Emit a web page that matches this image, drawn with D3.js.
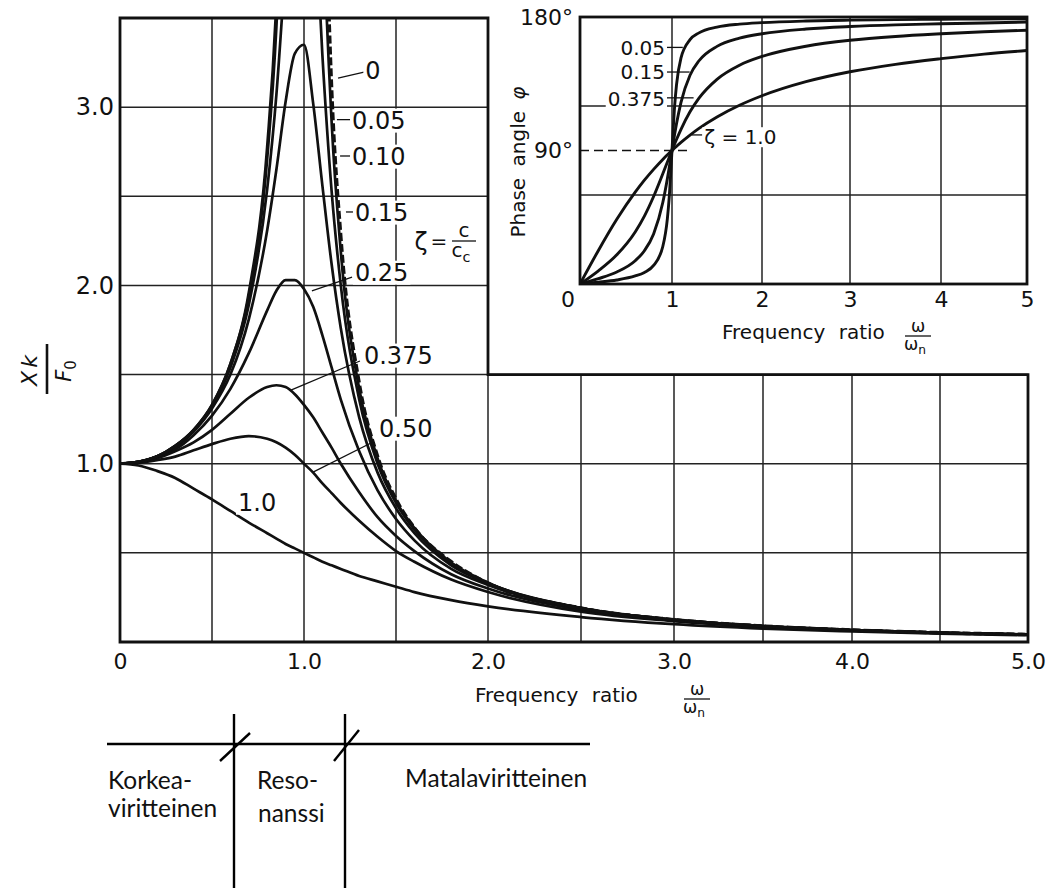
<!DOCTYPE html>
<html>
<head>
<meta charset="utf-8">
<script src="https://cdn.jsdelivr.net/npm/d3@7"></script>
<style>
	body { margin: 0; background: #fff; }
	svg { display: block; }
	.scan { font-family: "DejaVu Sans", sans-serif; fill: #111; }
	.note { font-family: Lato, "Open Sans", sans-serif; fill: #111; font-size: 24.5px; }
	.grid { stroke: #222; stroke-width: 1.5; }
	.frame { fill: none; stroke: #111; stroke-width: 2.8; }
	.curve { fill: none; stroke: #111; stroke-width: 2.7; }
	.lead { stroke: #111; stroke-width: 1.3; }
	.mark { stroke: #000; stroke-width: 2.4; }
</style>
</head>
<body>
<svg width="1049" height="888"></svg>
<script>
// frequency ratio samples for the amplitude curves
const ratio = [0, 0.1, 0.2, 0.3, 0.4, 0.5, 0.6, 0.7, 0.8, 0.85, 0.9, 0.95, 1.0, 1.05, 1.1, 1.15, 1.2, 1.3, 1.4, 1.5, 1.6, 1.8, 2.0, 2.5, 3.0, 3.5, 4.0, 4.5, 5.0];

// Xk/F0, one array per damping ratio
const zeta0    = [1, 1.01, 1.04, 1.10, 1.19, 1.33, 1.56, 1.96, 2.78, 3.60, 5.26, null, null, null, 4.76, 3.10, 2.27, 1.45, 1.04, 0.80, 0.64, 0.45, 0.33, 0.19, 0.125, 0.089, 0.067, 0.052, 0.042];
const zeta005  = [1, 1.01, 1.04, 1.10, 1.19, 1.33, 1.56, 1.94, 2.71, 3.45, 4.76, 7.35, 10.0, 6.82, 4.22, 2.92, 2.19, 1.42, 1.03, 0.79, 0.64, 0.445, 0.333, 0.19, 0.125, 0.089, 0.067, 0.052, 0.042];
const zeta010  = [1, 1.01, 1.04, 1.10, 1.185, 1.32, 1.54, 1.89, 2.54, 3.07, 3.82, 4.68, 5.0, 4.28, 3.29, 2.53, 2.0, 1.36, 1.0, 0.78, 0.63, 0.44, 0.33, 0.19, 0.125, 0.089, 0.067, 0.052, 0.042];
const zeta015  = [1, 1.01, 1.04, 1.09, 1.18, 1.31, 1.50, 1.81, 2.31, 2.65, 3.03, 3.30, 3.35, 3.02, 2.56, 2.12, 1.76, 1.26, 0.95, 0.75, 0.61, 0.43, 0.33, 0.19, 0.124, 0.089, 0.067, 0.052, 0.042];
const zeta025  = [1, 1.01, 1.04, 1.08, 1.16, 1.27, 1.42, 1.62, 1.86, 1.97, 2.03, 2.03, 1.98, 1.88, 1.72, 1.54, 1.36, 1.07, 0.85, 0.69, 0.57, 0.41, 0.32, 0.185, 0.123, 0.088, 0.066, 0.052, 0.041];
const zeta0375 = [1, 1.01, 1.03, 1.07, 1.12, 1.19, 1.28, 1.37, 1.43, 1.44, 1.43, 1.39, 1.33, 1.26, 1.175, 1.09, 1.0, 0.84, 0.70, 0.595, 0.51, 0.38, 0.30, 0.18, 0.12, 0.087, 0.065, 0.051, 0.041];
const zeta050  = [1, 1.005, 1.02, 1.04, 1.075, 1.11, 1.14, 1.155, 1.14, 1.12, 1.09, 1.05, 1.0, 0.95, 0.89, 0.835, 0.78, 0.68, 0.59, 0.51, 0.45, 0.35, 0.28, 0.17, 0.117, 0.085, 0.064, 0.051, 0.041];
const zeta100  = [1, 0.99, 0.96, 0.92, 0.86, 0.80, 0.735, 0.67, 0.61, 0.58, 0.55, 0.525, 0.50, 0.475, 0.45, 0.43, 0.41, 0.37, 0.34, 0.31, 0.28, 0.235, 0.20, 0.14, 0.10, 0.075, 0.059, 0.047, 0.038];

// phase angle (degrees) for the inset
const phaseRatio = [0, 0.2, 0.4, 0.6, 0.7, 0.8, 0.9, 0.95, 0.97, 1.0, 1.03, 1.05, 1.1, 1.2, 1.3, 1.5, 1.75, 2.0, 2.5, 3.0, 3.5, 4.0, 4.5, 5.0];
const phase005  = [0, 1.2, 2.7, 5.4, 7.8, 12.5, 25.3, 44.3, 58.6, 90, 120.6, 134.3, 152.4, 164.7, 169.3, 173.2, 175.2, 176.2, 177.3, 177.9, 178.2, 178.5, 178.7, 178.8];
const phase015  = [0, 3.6, 8.1, 15.7, 22.4, 33.7, 54.9, 71.1, 78.5, 90, 101.2, 108.0, 122.5, 140.7, 150.5, 160.2, 165.7, 168.7, 171.9, 173.6, 174.7, 175.4, 176.0, 176.6];
const phase0375 = [0, 8.9, 19.7, 35.1, 45.8, 59.0, 74.3, 82.2, 85.4, 90, 94.5, 97.4, 104.3, 116.1, 125.3, 138.0, 147.5, 153.4, 160.3, 164.3, 166.9, 168.7, 170.1, 171.1];
const phase100  = [0, 22.6, 43.6, 61.9, 70.0, 77.3, 84.0, 87.1, 88.3, 90, 91.7, 92.8, 95.5, 100.4, 104.9, 112.6, 120.5, 126.9, 136.4, 143.1, 148.1, 151.9, 155.0, 157.4];

// ticks and grid
const xTicks = [0, 1, 2, 3, 4, 5];
const xTickLabels = ["0", "1.0", "2.0", "3.0", "4.0", "5.0"];
const yTicks = [1, 2, 3];
const yTickLabels = ["1.0", "2.0", "3.0"];
const xGrid = [0.5, 1, 1.5, 2, 2.5, 3, 3.5, 4, 4.5];
const yGrid = [0.5, 1, 1.5, 2, 2.5, 3];
const insetXTicks = [1, 2, 3, 4, 5];
const insetYTicks = [90, 180];
const insetXGrid = [1, 2, 3, 4];
const insetYGrid = [60, 120];

const svg = d3.select("svg");

// the scan is a little uneven, so the x scale gets one stop per unit
const x = d3.scaleLinear()
	.domain([0, 1, 2, 3, 4, 5])
	.range([120, 304, 488, 674, 852, 1028]);

const y = d3.scaleLinear()
	.domain([0, 3.5])
	.range([642, 18]);

const ix = d3.scaleLinear()
	.domain([0, 1, 2, 3, 4, 5])
	.range([580, 672, 762, 850, 941, 1027]);

const iy = d3.scaleLinear()
	.domain([0, 180])
	.range([284, 17]);

// label with a white knock-out box, like the lettering in the scan
function label(g, str, px, py, anchor, size) {
	const t = g.append("text")
		.attr("class", "scan")
		.attr("x", px)
		.attr("y", py)
		.attr("dy", "0.36em")
		.attr("text-anchor", anchor)
		.style("font-size", size + "px")
		.text(str);
	const b = t.node().getBBox();
	g.insert("rect", function() { return t.node(); })
		.attr("x", b.x - 2)
		.attr("y", b.y + 2)
		.attr("width", b.width + 4)
		.attr("height", b.height - 4)
		.attr("fill", "#fff");
	return t;
}

// fraction like  top / bottom with an optional subscript on the bottom
function fraction(g, cx, cy, top, bottom, sub, size, width) {
	g.append("text")
		.attr("class", "scan")
		.attr("x", cx).attr("y", cy - 4)
		.attr("text-anchor", "middle")
		.style("font-size", size + "px")
		.text(top);
	g.append("line")
		.attr("class", "lead")
		.attr("x1", cx - width / 2).attr("x2", cx + width / 2)
		.attr("y1", cy).attr("y2", cy);
	const b = g.append("text")
		.attr("class", "scan")
		.attr("x", cx - 3).attr("y", cy + size * 0.8)
		.attr("text-anchor", "middle")
		.style("font-size", size + "px")
		.text(bottom);
	b.append("tspan")
		.attr("dy", size * 0.25)
		.style("font-size", (size * 0.72) + "px")
		.text(sub);
}

// ---------- main amplitude plot ----------
const main = svg.append("g").attr("class", "main");

// the frame is L shaped: the inset sits in the top right corner
const outline = [[0, 0], [0, 3.5], [2, 3.5], [2, 1.5], [5, 1.5], [5, 0]];
const outlinePath = d3.line()
	.x(function(d) { return x(d[0]); })
	.y(function(d) { return y(d[1]); });

svg.append("defs").append("clipPath")
	.attr("id", "mainClip")
	.append("path")
	.attr("d", outlinePath(outline) + "Z");

main.selectAll(".vgrid")
	.data(xGrid)
	.enter().append("line")
	.attr("class", "grid vgrid")
	.attr("x1", function(d) { return x(d); })
	.attr("x2", function(d) { return x(d); })
	.attr("y1", y(0))
	.attr("y2", function(d) { return y(d <= 2 ? 3.5 : 1.5); });

main.selectAll(".hgrid")
	.data(yGrid)
	.enter().append("line")
	.attr("class", "grid hgrid")
	.attr("x1", x(0))
	.attr("x2", function(d) { return x(d <= 1.5 ? 5 : 2); })
	.attr("y1", function(d) { return y(d); })
	.attr("y2", function(d) { return y(d); });

const curves = main.append("g").attr("clip-path", "url(#mainClip)");

const amp = d3.line()
	.defined(function(d) { return d[1] != null; })
	.x(function(d) { return x(d[0]); })
	.y(function(d) { return y(d[1]); })
	.curve(d3.curveMonotoneX);

const series = [zeta100, zeta050, zeta0375, zeta025, zeta015, zeta010, zeta005];

curves.selectAll(".damped")
	.data(series)
	.enter().append("path")
	.attr("class", "curve damped")
	.attr("d", function(s) { return amp(ratio.map(function(r, i) { return [r, s[i]]; })); });

// undamped curve: solid below resonance, dashed above
curves.append("path")
	.attr("class", "curve")
	.attr("d", amp(ratio.map(function(r, i) { return [r, r < 1 ? zeta0[i] : null]; })));

curves.append("path")
	.attr("class", "curve")
	.style("stroke-width", 3.6)
	.style("stroke-dasharray", "8,3")
	.attr("d", amp(ratio.map(function(r, i) { return [r, r > 1 ? zeta0[i] : null]; })));

main.append("path")
	.attr("class", "frame")
	.attr("d", outlinePath(outline) + "Z");

// axes
const xAxis = d3.axisBottom(x)
	.tickValues(xTicks)
	.tickSize(0)
	.tickPadding(11)
	.tickFormat(function(d, i) { return xTickLabels[i]; });

main.append("g")
	.attr("transform", "translate(0," + y(0) + ")")
	.call(xAxis)
	.call(function(g) { g.select(".domain").remove(); })
	.selectAll("text")
	.attr("class", "scan")
	.style("font-size", "22px");

const yAxis = d3.axisLeft(y)
	.tickValues(yTicks)
	.tickSize(0)
	.tickPadding(6)
	.tickFormat(function(d, i) { return yTickLabels[i]; });

main.append("g")
	.attr("transform", "translate(" + x(0) + ",0)")
	.call(yAxis)
	.call(function(g) { g.select(".domain").remove(); })
	.selectAll("text")
	.attr("class", "scan")
	.style("font-size", "24px");

// x title with the w/wn fraction
main.append("text")
	.attr("class", "scan")
	.attr("x", 475)
	.attr("y", 702)
	.style("font-size", "20px")
	.style("word-spacing", "7px")
	.text("Frequency ratio");
fraction(main, 697, 699, "ω", "ω", "n", 17, 26);

// y title Xk / F0, turned on its side
const yTitle = main.append("g")
	.attr("transform", "translate(47,369) rotate(-90)");
yTitle.append("text")
	.attr("class", "scan")
	.attr("x", 0).attr("y", -10)
	.attr("text-anchor", "middle")
	.style("font-size", "22px")
	.style("font-style", "italic")
	.style("letter-spacing", "3px")
	.text("Xk");
yTitle.append("line")
	.attr("stroke", "#111").attr("stroke-width", 2.6)
	.attr("x1", -25).attr("x2", 25)
	.attr("y1", 0).attr("y2", 0);
const f0 = yTitle.append("text")
	.attr("class", "scan")
	.attr("x", -2).attr("y", 24)
	.attr("text-anchor", "middle")
	.style("font-size", "21px")
	.style("font-style", "italic")
	.text("F");
f0.append("tspan")
	.attr("dy", 5)
	.style("font-size", "15px")
	.style("font-style", "normal")
	.text("0");

// curve labels and their leader lines (data coordinates)
const mainLeads = [
	[1.185, 3.163, 1.326, 3.197],
	[1.179, 2.93, 1.252, 2.93],
	[1.196, 2.726, 1.252, 2.726],
	[1.228, 2.412, 1.268, 2.412],
	[1.043, 1.969, 1.261, 2.047],
	[0.929, 1.413, 1.304, 1.576],
	[1.049, 0.953, 1.375, 1.122]
];
main.selectAll(".mlead")
	.data(mainLeads)
	.enter().append("line")
	.attr("class", "lead mlead")
	.attr("x1", function(d) { return x(d[0]); })
	.attr("y1", function(d) { return y(d[1]); })
	.attr("x2", function(d) { return x(d[2]); })
	.attr("y2", function(d) { return y(d[3]); });

label(main, "0", x(1.375), y(3.208), "middle", 24);
label(main, "0.05", x(1.261), y(2.928), "start", 24);
label(main, "0.10", x(1.261), y(2.726), "start", 24);
label(main, "0.15", x(1.277), y(2.412), "start", 24);
label(main, "0.25", x(1.277), y(2.075), "start", 24);
label(main, "0.375", x(1.326), y(1.610), "start", 24);
label(main, "0.50", x(1.408), y(1.200), "start", 24);
label(main, "1.0", x(0.745), y(0.785), "middle", 24);

// zeta = c / cc
const zetaDef = main.append("g");
zetaDef.append("rect")
	.attr("x", 405).attr("y", 220).attr("width", 78).attr("height", 48)
	.attr("fill", "#fff");
zetaDef.append("text")
	.attr("class", "scan")
	.attr("x", 421).attr("y", 250)
	.attr("text-anchor", "middle")
	.style("font-size", "24px")
	.text("ζ");
zetaDef.append("text")
	.attr("class", "scan")
	.attr("x", 439).attr("y", 248)
	.attr("text-anchor", "middle")
	.style("font-size", "20px")
	.text("=");
fraction(zetaDef, 464, 241, "c", "c", "c", 20, 24);

// ---------- inset: phase angle ----------
const inset = svg.append("g").attr("class", "inset");

inset.append("rect")
	.attr("x", ix(0)).attr("y", iy(180))
	.attr("width", ix(5) - ix(0)).attr("height", iy(0) - iy(180))
	.attr("fill", "#fff");

svg.select("defs").append("clipPath")
	.attr("id", "insetClip")
	.append("rect")
	.attr("x", ix(0)).attr("y", iy(180))
	.attr("width", ix(5) - ix(0)).attr("height", iy(0) - iy(180));

inset.selectAll(".ivgrid")
	.data(insetXGrid)
	.enter().append("line")
	.attr("class", "grid ivgrid")
	.attr("x1", function(d) { return ix(d); })
	.attr("x2", function(d) { return ix(d); })
	.attr("y1", iy(0))
	.attr("y2", iy(180));

inset.selectAll(".ihgrid")
	.data(insetYGrid)
	.enter().append("line")
	.attr("class", "grid ihgrid")
	.attr("x1", ix(0))
	.attr("x2", ix(5))
	.attr("y1", function(d) { return iy(d); })
	.attr("y2", function(d) { return iy(d); });

// dashed 90 degree reference
inset.append("line")
	.attr("stroke", "#111")
	.attr("stroke-width", 1.6)
	.style("stroke-dasharray", "9,5")
	.attr("x1", ix(0)).attr("x2", ix(1.22))
	.attr("y1", iy(90)).attr("y2", iy(90));

const phase = d3.line()
	.x(function(d) { return ix(d[0]); })
	.y(function(d) { return iy(d[1]); })
	.curve(d3.curveMonotoneX);

inset.append("g")
	.attr("clip-path", "url(#insetClip)")
	.selectAll("path")
	.data([phase100, phase0375, phase015, phase005])
	.enter().append("path")
	.attr("class", "curve")
	.style("stroke-width", 2.9)
	.attr("d", function(s) { return phase(phaseRatio.map(function(r, i) { return [r, s[i]]; })); });

inset.append("rect")
	.attr("class", "frame")
	.attr("x", ix(0)).attr("y", iy(180))
	.attr("width", ix(5) - ix(0)).attr("height", iy(0) - iy(180));

const insetLeads = [
	[0.935, 159.5, 1.12, 159.5],
	[0.935, 142.9, 1.196, 142.9],
	[0.935, 125.5, 1.24, 125.5],
	[1.22, 100.5, 1.337, 100.5]
];
inset.selectAll(".ilead")
	.data(insetLeads)
	.enter().append("line")
	.attr("class", "lead ilead")
	.attr("x1", function(d) { return ix(d[0]); })
	.attr("y1", function(d) { return iy(d[1]); })
	.attr("x2", function(d) { return ix(d[2]); })
	.attr("y2", function(d) { return iy(d[3]); });

label(inset, "0.05", ix(0.924), iy(159.1), "end", 20);
label(inset, "0.15", ix(0.924), iy(142.9), "end", 20);
label(inset, "0.375", ix(0.924), iy(124.7), "end", 20);
label(inset, "ζ = 1.0", ix(1.359), iy(99.1), "start", 20);

const ixAxis = d3.axisBottom(ix)
	.tickValues(insetXTicks)
	.tickSize(0)
	.tickPadding(7)
	.tickFormat(d3.format("d"));

inset.append("g")
	.attr("transform", "translate(0," + iy(0) + ")")
	.call(ixAxis)
	.call(function(g) { g.select(".domain").remove(); })
	.selectAll("text")
	.attr("class", "scan")
	.style("font-size", "22px");

const iyAxis = d3.axisLeft(iy)
	.tickValues(insetYTicks)
	.tickSize(0)
	.tickPadding(7)
	.tickFormat(function(d) { return d + "°"; });

inset.append("g")
	.attr("transform", "translate(" + ix(0) + ",0)")
	.call(iyAxis)
	.call(function(g) { g.select(".domain").remove(); })
	.selectAll("text")
	.attr("class", "scan")
	.style("font-size", "22px");

inset.append("text")
	.attr("class", "scan")
	.attr("x", 568).attr("y", 307)
	.attr("text-anchor", "middle")
	.style("font-size", "22px")
	.text("0");

const phTitle = inset.append("text")
	.attr("class", "scan")
	.attr("transform", "translate(525,162) rotate(-90)")
	.attr("text-anchor", "middle")
	.style("font-size", "20px")
	.style("word-spacing", "5px")
	.text("Phase angle ");
phTitle.append("tspan")
	.style("font-style", "italic")
	.text("φ");

inset.append("text")
	.attr("class", "scan")
	.attr("x", 722).attr("y", 339)
	.style("font-size", "20px")
	.style("word-spacing", "7px")
	.text("Frequency ratio");
fraction(inset, 918, 336, "ω", "ω", "n", 17, 26);

// ---------- Finnish regime notes below ----------
const notes = svg.append("g").attr("class", "notes");

notes.append("line").attr("class", "mark")
	.attr("x1", 107).attr("x2", 590).attr("y1", 744).attr("y2", 744);
notes.append("line").attr("class", "mark")
	.attr("x1", 234).attr("x2", 234).attr("y1", 714).attr("y2", 888);
notes.append("line").attr("class", "mark")
	.attr("x1", 345).attr("x2", 345).attr("y1", 714).attr("y2", 888);
notes.append("line").attr("class", "mark")
	.attr("x1", 220).attr("x2", 250).attr("y1", 761).attr("y2", 733);
notes.append("line").attr("class", "mark")
	.attr("x1", 334).attr("x2", 359).attr("y1", 761).attr("y2", 730);

notes.append("text").attr("class", "note").attr("x", 108).attr("y", 789).text("Korkea-");
notes.append("text").attr("class", "note").attr("x", 108).attr("y", 817).text("viritteinen");
notes.append("text").attr("class", "note").attr("x", 257).attr("y", 789).text("Reso-");
notes.append("text").attr("class", "note").attr("x", 258).attr("y", 822).text("nanssi");
notes.append("text").attr("class", "note").attr("x", 405).attr("y", 787).text("Matalaviritteinen");
</script>
</body>
</html>
